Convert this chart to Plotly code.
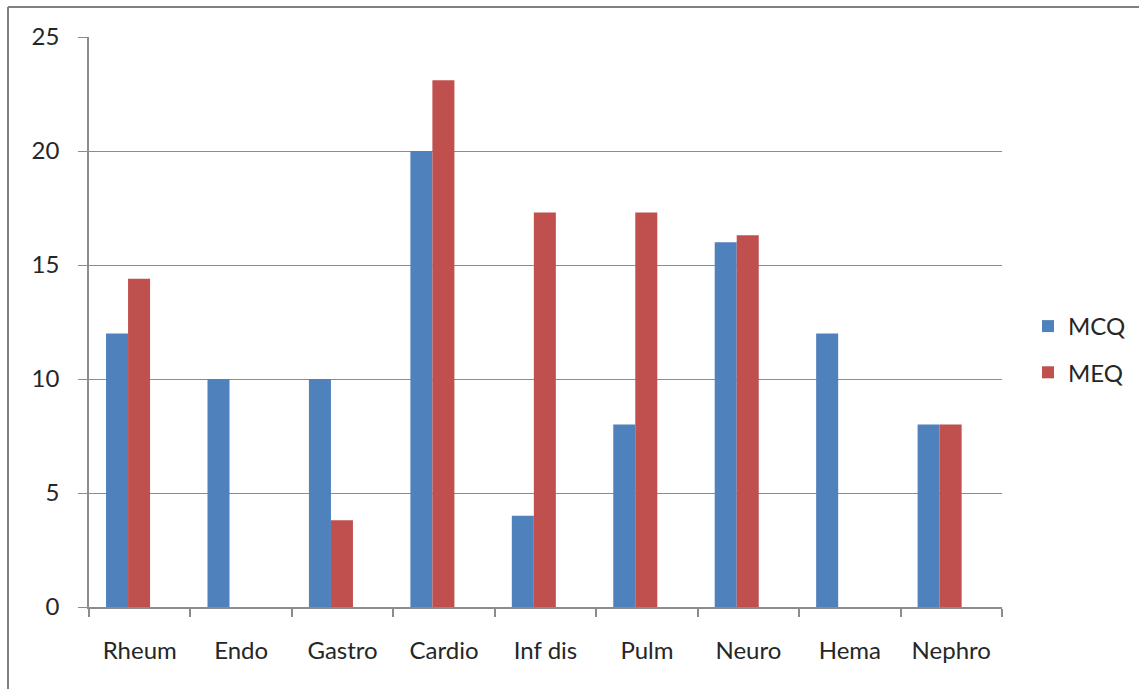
import plotly.graph_objects as go

# Question counts per specialty
categories = ["Rheum", "Endo", "Gastro", "Cardio", "Inf dis", "Pulm", "Neuro", "Hema", "Nephro"]
mcq = [12, 10, 10, 20, 4, 8, 16, 12, 8]
meq = [14.4, 0, 3.8, 23.1, 17.3, 17.3, 16.3, 0, 8]
y_ticks = [0, 5, 10, 15, 20, 25]

BLUE = "#4F81BD"
RED = "#C0504D"
GRID = "#8C8C8C"
FONT = "Lato, 'Open Sans', sans-serif"

# bar geometry in category units: each bar is ~0.217 wide, the pair sits slightly left of centre
BAR_W = 0.217
SHIFT = 0.115

fig = go.Figure()
fig.add_trace(go.Bar(x=categories, y=mcq, name="MCQ", width=BAR_W, offset=-BAR_W - SHIFT,
                     marker=dict(color=BLUE, line=dict(width=0)), legendgroup="a"))
fig.add_trace(go.Bar(x=categories, y=meq, name="MEQ", width=BAR_W, offset=-SHIFT,
                     marker=dict(color=RED, line=dict(width=0)), legendgroup="b"))

W, H = 1139, 689
L, R, T, B = 89, 0, 37, 82
PLOT_RIGHT = 1002  # right edge of the axes in pixels
pw, ph = W - L - R, H - T - B

def px_x(p):
    return (p - L) / pw

def px_y(p):
    return (H - B - p) / ph

fig.update_layout(
    width=W, height=H,
    margin=dict(l=L, r=R, t=T, b=B),
    paper_bgcolor="white", plot_bgcolor="white",
    barmode="overlay",
    font=dict(family=FONT, size=24, color="#262626"),
    showlegend=True,
    legend=dict(x=px_x(1028), y=px_y(304), xanchor="left", yanchor="top",
                tracegroupgap=12, font=dict(size=24, color="#262626"),
                itemwidth=30, bgcolor="rgba(0,0,0,0)"),
    xaxis=dict(
        domain=[0, px_x(PLOT_RIGHT)],
        type="category", showgrid=False, showline=True, linecolor=GRID, linewidth=1.5,
        ticks="outside", tickson="boundaries", ticklen=8, tickcolor=GRID, tickwidth=1.5,
        ticklabelstandoff=21, tickfont=dict(size=24),
    ),
    yaxis=dict(
        range=[0, 25], tickvals=y_ticks, showgrid=True, gridcolor=GRID, gridwidth=1.2,
        showline=True, linecolor=GRID, linewidth=1.5, zeroline=False,
        ticks="outside", ticklen=9, tickcolor=GRID, tickwidth=1.2,
        ticklabelstandoff=14, tickfont=dict(size=24),
    ),
    shapes=[
        dict(type="line", xref="paper", yref="paper", x0=px_x(8), x1=px_x(8), y0=px_y(7), y1=px_y(700),
             line=dict(color="#808080", width=2)),
        dict(type="line", xref="paper", yref="paper", x0=px_x(8), x1=px_x(1150), y0=px_y(7), y1=px_y(7),
             line=dict(color="#808080", width=2)),
    ],
)

fig.write_html("out.html")
